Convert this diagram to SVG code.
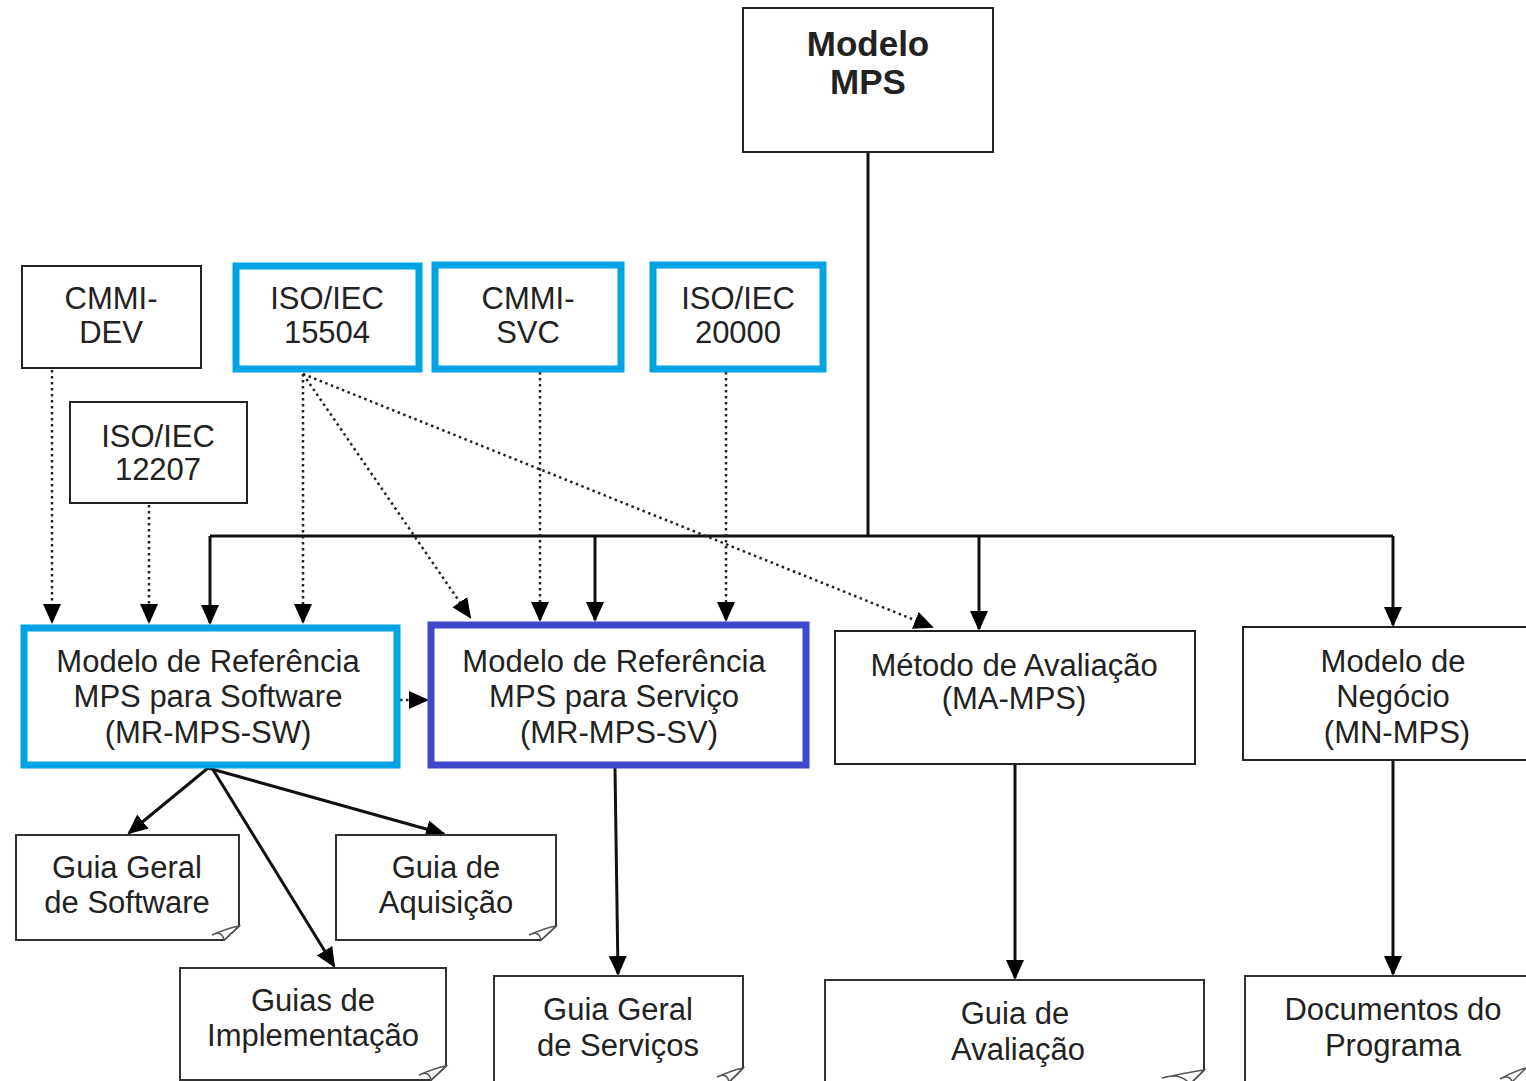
<svg xmlns="http://www.w3.org/2000/svg" width="1526" height="1081" viewBox="0 0 1526 1081">
<style>
text{font-family:"Liberation Sans",Arial,sans-serif;font-size:31px;fill:#222;text-anchor:middle}
.b{fill:#fff;stroke:#222;stroke-width:2}
.blue{fill:#fff;stroke:#00A3E4;stroke-width:7}
.purple{fill:#fff;stroke:#3F48CC;stroke-width:7}
.doc{fill:#fff;stroke:#333;stroke-width:2}
.curl{fill:#fff;stroke:#555;stroke-width:1.5}
.s{fill:none;stroke:#111;stroke-width:3}
.d{fill:none;stroke:#222;stroke-width:2.5;stroke-dasharray:2.5 3.5}
</style>
<defs>
<marker id="ah" markerUnits="userSpaceOnUse" markerWidth="20" markerHeight="20" viewBox="0 0 20 20" refX="18" refY="10" orient="auto">
<path d="M0,1 L20,10 L0,19 Z" fill="#000"/>
</marker>
</defs>

<g id="connectors">
<path class="s" d="M868,152 V536"/>
<path class="s" d="M210,536 H1393"/>
<path class="s" d="M210,536 V623" marker-end="url(#ah)"/>
<path class="s" d="M595,536 V620" marker-end="url(#ah)"/>
<path class="s" d="M979,536 V629" marker-end="url(#ah)"/>
<path class="s" d="M1393,536 V625" marker-end="url(#ah)"/>
<path class="d" d="M52,370 V622" marker-end="url(#ah)"/>
<path class="d" d="M149,505 V622" marker-end="url(#ah)"/>
<path class="d" d="M303,374 V622" marker-end="url(#ah)"/>
<path class="d" d="M303,374 L470,617" marker-end="url(#ah)"/>
<path class="d" d="M303,374 L932,627" marker-end="url(#ah)"/>
<path class="d" d="M540,372 V620" marker-end="url(#ah)"/>
<path class="d" d="M726,372 V620" marker-end="url(#ah)"/>
<path class="d" d="M400,700 H427" marker-end="url(#ah)"/>
<path class="s" d="M208,768 L129,833" marker-end="url(#ah)"/>
<path class="s" d="M208,768 L444,834" marker-end="url(#ah)"/>
<path class="s" d="M212,768 L334,966" marker-end="url(#ah)"/>
<path class="s" d="M615,768 L618,974" marker-end="url(#ah)"/>
<path class="s" d="M1015,764 V978" marker-end="url(#ah)"/>
<path class="s" d="M1393,760 V974" marker-end="url(#ah)"/>
</g>

<g id="modelo-mps">
<rect class="b" x="743" y="8" width="250" height="144"/>
<text x="868" y="56" style="font-weight:bold;font-size:35px">Modelo</text>
<text x="868" y="94" style="font-weight:bold;font-size:35px">MPS</text>
</g>

<g id="cmmi-dev">
<rect class="b" x="22" y="266" width="179" height="102"/>
<text x="111" y="309">CMMI-</text>
<text x="111" y="343">DEV</text>
</g>
<g id="iso-15504">
<rect class="blue" x="236" y="266" width="183" height="103"/>
<text x="327" y="309">ISO/IEC</text>
<text x="327" y="343">15504</text>
</g>
<g id="cmmi-svc">
<rect class="blue" x="435" y="265" width="186" height="104"/>
<text x="528" y="309">CMMI-</text>
<text x="528" y="343">SVC</text>
</g>
<g id="iso-20000">
<rect class="blue" x="653" y="265" width="170" height="104"/>
<text x="738" y="309">ISO/IEC</text>
<text x="738" y="343">20000</text>
</g>
<g id="iso-12207">
<rect class="b" x="70" y="402" width="177" height="101"/>
<text x="158" y="447">ISO/IEC</text>
<text x="158" y="480">12207</text>
</g>

<g id="mr-mps-sw">
<rect class="blue" x="24" y="628" width="373" height="137"/>
<text x="208" y="672">Modelo de Referência</text>
<text x="208" y="707">MPS para Software</text>
<text x="208" y="743">(MR-MPS-SW)</text>
</g>
<g id="mr-mps-sv">
<rect class="purple" x="431" y="625" width="375" height="140"/>
<text x="614" y="672">Modelo de Referência</text>
<text x="614" y="707">MPS para Serviço</text>
<text x="619" y="743">(MR-MPS-SV)</text>
</g>
<g id="ma-mps">
<rect class="b" x="835" y="631" width="360" height="133"/>
<text x="1014" y="676">Método de Avaliação</text>
<text x="1014" y="709">(MA-MPS)</text>
</g>
<g id="mn-mps">
<rect class="b" x="1243" y="627" width="290" height="133"/>
<text x="1393" y="672">Modelo de</text>
<text x="1393" y="707">Negócio</text>
<text x="1397" y="743">(MN-MPS)</text>
</g>

<g id="guia-geral-software">
<path class="doc" d="M16,835 H239 V926 L224,940 H16 Z"/>
<path class="curl" d="M239,926 L224,940 Q222,930 212,935 Q228,928 239,926 Z"/>
<text x="127" y="878">Guia Geral</text>
<text x="127" y="913">de Software</text>
</g>
<g id="guia-aquisicao">
<path class="doc" d="M336,835 H556 V926 L541,940 H336 Z"/>
<path class="curl" d="M556,926 L541,940 Q539,930 529,935 Q545,928 556,926 Z"/>
<text x="446" y="878">Guia de</text>
<text x="446" y="913">Aquisição</text>
</g>
<g id="guias-implementacao">
<path class="doc" d="M180,968 H446 V1066 L431,1080 H180 Z"/>
<path class="curl" d="M446,1066 L431,1080 Q429,1070 419,1075 Q435,1068 446,1066 Z"/>
<text x="313" y="1011">Guias de</text>
<text x="313" y="1046">Implementação</text>
</g>
<g id="guia-geral-servicos">
<path class="doc" d="M494,976 H743 V1068 L729,1082 H494 Z"/>
<path class="curl" d="M743,1068 L729,1082 Q727,1072 717,1077 Q733,1070 743,1068 Z"/>
<text x="618" y="1020">Guia Geral</text>
<text x="618" y="1056">de Serviços</text>
</g>
<g id="guia-avaliacao">
<path class="doc" d="M825,980 H1204 V1070 L1190,1084 H825 Z"/>
<path class="curl" d="M1204,1070 L1190,1084 Q1180,1072 1162,1078 Q1190,1072 1204,1070 Z"/>
<text x="1015" y="1024">Guia de</text>
<text x="1018" y="1060">Avaliação</text>
</g>
<g id="documentos-programa">
<path class="doc" d="M1245,976 H1530 V1090 H1245 Z"/>
<path class="curl" d="M1526,1068 L1512,1082 Q1510,1074 1500,1079 Q1515,1071 1526,1068 Z"/>
<text x="1393" y="1020">Documentos do</text>
<text x="1393" y="1056">Programa</text>
</g>
</svg>
